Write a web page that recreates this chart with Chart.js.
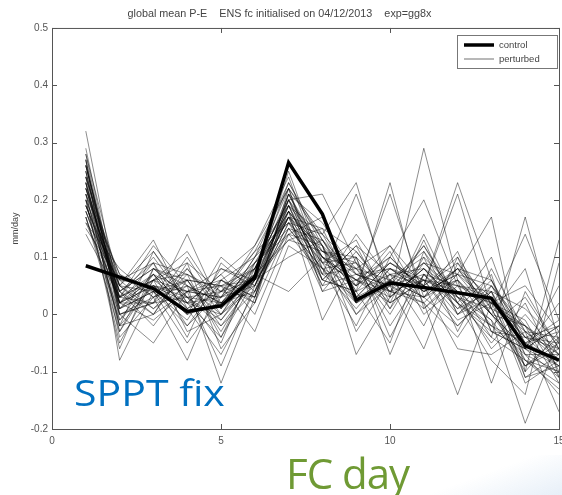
<!DOCTYPE html>
<html>
<head>
<meta charset="utf-8">
<script src="https://cdn.jsdelivr.net/npm/chart.js@4/dist/chart.umd.min.js"></script>
<style>
  html, body { margin: 0; padding: 0; background: #fff; overflow: hidden; }
  #wrap { position: relative; width: 562px; height: 495px; overflow: hidden; }
  #box { position: absolute; left: 0; top: 0; width: 600px; height: 495px; }
  .note { position: absolute; font-family: "Open Sans", sans-serif; white-space: nowrap; line-height: 1; }
  #sppt { left: 74px; top: 375px; font-size: 36px; color: #0070c0; transform: scaleX(1.14); transform-origin: left top; }
  #fcday { left: 286px; top: 452px; font-size: 42px; color: #6f9a34; letter-spacing: -1px; }
  #glow { position: absolute; left: 430px; top: 455px; width: 140px; height: 45px;
          background: linear-gradient(160deg, rgba(255,255,255,0) 40%, rgba(220,232,245,0.8) 100%); }
</style>
</head>
<body>
<div id="wrap">
  <div id="box"><canvas id="chart1"></canvas></div>
  <div id="glow"></div>
  <div class="note" id="sppt">SPPT fix</div>
  <div class="note" id="fcday">FC day</div>
</div>
<script>
const days = [1, 2, 3, 4, 5, 6, 7, 8, 9, 10, 11, 12, 13, 14, 15]
const xTicks = [0, 5, 10, 15]
const yTicks = [-0.2, -0.1, 0, 0.1, 0.2, 0.3, 0.4, 0.5]

const control = [0.085, 0.065, 0.045, 0.005, 0.015, 0.065, 0.265, 0.175, 0.025, 0.055, 0.047, 0.038, 0.028, -0.055, -0.08]

// ensemble members
const m01 = [0.32, 0.02, 0.05, 0.03, -0.02, 0.06, 0.20, 0.12, 0.06, 0.03, 0.08, 0.02, -0.03, -0.06, -0.09]
const m02 = [0.27, -0.08, 0.04, 0.02, 0.00, 0.05, 0.17, 0.09, 0.10, 0.04, 0.06, 0.05, 0.02, -0.04, -0.05]
const m03 = [0.28, 0.05, 0.13, 0.01, 0.04, 0.08, 0.22, 0.14, 0.04, 0.07, 0.03, -0.02, 0.04, -0.08, -0.12]
const m04 = [0.25, 0.00, 0.02, 0.14, 0.01, 0.10, 0.19, 0.06, 0.12, 0.01, 0.09, 0.07, 0.00, -0.02, -0.07]
const m05 = [0.22, 0.03, 0.06, -0.04, 0.09, 0.04, 0.16, 0.10, 0.02, 0.08, 0.05, 0.10, 0.01, -0.10, -0.03]
const m06 = [0.20, -0.06, 0.08, 0.05, -0.12, 0.03, 0.21, 0.16, 0.07, 0.05, 0.12, 0.03, -0.05, 0.02, -0.10]
const m07 = [0.24, 0.06, 0.01, 0.07, 0.03, 0.12, 0.24, 0.08, -0.02, 0.10, 0.04, 0.08, 0.06, -0.05, -0.01]
const m08 = [0.18, 0.02, 0.09, 0.00, 0.05, 0.06, 0.13, 0.11, 0.09, -0.02, 0.07, 0.00, 0.03, -0.07, -0.14]
const m09 = [0.26, 0.04, -0.02, 0.06, -0.03, 0.07, 0.18, 0.05, 0.14, 0.06, 0.01, 0.06, -0.02, 0.03, -0.06]
const m10 = [0.21, -0.02, 0.11, 0.03, 0.02, 0.09, 0.15, 0.13, 0.05, 0.12, 0.02, -0.04, 0.05, -0.03, -0.08]
const m11 = [0.16, 0.08, 0.03, -0.08, 0.06, 0.02, 0.20, 0.07, 0.08, 0.00, 0.10, 0.04, -0.01, -0.09, -0.04]
const m12 = [0.23, 0.01, 0.07, 0.04, -0.09, 0.05, 0.17, 0.15, 0.03, 0.09, 0.05, 0.09, 0.02, -0.01, -0.11]
const m13 = [0.19, 0.05, 0.00, 0.09, 0.04, 0.11, 0.22, 0.04, 0.11, 0.03, 0.29, 0.06, 0.00, -0.06, -0.02]
const m14 = [0.27, -0.01, 0.05, 0.02, 0.07, 0.00, 0.14, 0.12, 0.00, 0.07, 0.08, 0.01, 0.07, -0.11, -0.07]
const m15 = [0.14, 0.03, 0.12, 0.05, 0.00, 0.08, 0.18, 0.10, 0.06, 0.04, 0.03, 0.11, -0.03, -0.04, -0.09]
const m16 = [0.22, 0.07, 0.04, -0.01, 0.08, 0.06, 0.25, 0.09, 0.13, 0.02, 0.06, -0.02, 0.04, 0.01, -0.05]
const m17 = [0.17, -0.03, 0.06, 0.11, 0.02, 0.04, 0.16, 0.06, 0.04, 0.11, 0.00, 0.05, -0.04, -0.08, -0.13]
const m18 = [0.25, 0.02, 0.02, 0.03, -0.05, 0.09, 0.19, 0.14, 0.08, 0.06, 0.11, 0.03, 0.01, -0.02, -0.06]
const m19 = [0.20, 0.04, 0.08, 0.06, 0.05, -0.03, 0.12, 0.08, 0.01, 0.08, 0.04, 0.07, 0.05, -0.05, -0.03]
const m20 = [0.28, 0.00, -0.05, 0.04, 0.03, 0.07, 0.21, 0.11, 0.10, -0.04, 0.07, 0.02, -0.02, -0.07, -0.10]
const m21 = [0.15, 0.06, 0.05, 0.00, 0.10, 0.05, 0.17, 0.05, 0.07, 0.05, 0.02, 0.08, 0.03, -0.12, -0.08]
const m22 = [0.23, -0.04, 0.03, 0.08, 0.01, 0.10, 0.23, 0.13, 0.03, 0.09, 0.06, -0.01, 0.02, -0.03, -0.04]
const m23 = [0.19, 0.03, 0.10, 0.02, -0.04, 0.06, 0.14, 0.07, 0.21, 0.05, 0.09, 0.04, -0.06, 0.00, -0.07]
const m24 = [0.26, 0.01, 0.04, -0.02, 0.06, 0.03, 0.18, 0.10, 0.05, 0.21, 0.03, 0.06, 0.00, -0.06, -0.11]
const m25 = [0.21, 0.05, 0.01, 0.05, 0.02, 0.08, 0.20, 0.21, 0.09, 0.01, 0.13, 0.00, 0.06, -0.04, -0.02]
const m26 = [0.17, -0.01, 0.07, 0.01, -0.07, 0.04, 0.15, 0.08, 0.02, 0.07, 0.05, 0.21, 0.01, -0.09, -0.06]
const m27 = [0.24, 0.03, 0.06, 0.07, 0.04, 0.06, 0.19, 0.12, -0.07, 0.03, 0.08, 0.02, -0.04, 0.17, -0.05]
const m28 = [0.18, 0.02, -0.01, 0.04, 0.03, 0.11, 0.16, 0.09, 0.06, 0.10, 0.20, 0.05, 0.03, -0.05, -0.09]
const m29 = [0.22, 0.04, 0.08, 0.03, -0.01, 0.07, 0.13, 0.15, 0.11, 0.04, 0.02, -0.14, 0.02, -0.02, -0.08]
const m30 = [0.27, 0.00, 0.03, 0.06, 0.05, 0.02, 0.22, 0.06, 0.04, 0.23, 0.01, 0.07, 0.17, -0.10, 0.13]
const m31 = [0.20, 0.06, 0.09, -0.03, 0.00, 0.09, 0.17, 0.11, 0.08, 0.02, 0.06, 0.03, -0.01, -0.19, -0.04]
const m32 = [0.25, -0.02, 0.05, 0.04, 0.08, 0.05, 0.20, 0.07, 0.03, 0.06, 0.10, -0.03, 0.08, -0.03, -0.17]
const m33 = [0.16, 0.03, 0.02, 0.10, 0.01, 0.06, 0.10, 0.13, 0.07, 0.08, 0.04, 0.06, -0.12, 0.04, -0.06]
const m34 = [0.23, 0.01, 0.06, 0.02, 0.03, 0.08, 0.18, -0.01, 0.10, -0.07, 0.07, 0.01, 0.04, -0.06, 0.02]
const m35 = [0.19, 0.05, 0.04, 0.06, -0.02, 0.04, 0.21, 0.09, 0.00, 0.05, -0.06, 0.09, 0.00, -0.08, -0.10]
const m36 = [0.26, 0.02, 0.07, 0.01, 0.06, 0.10, 0.16, 0.14, 0.23, 0.03, 0.08, 0.04, 0.02, 0.05, -0.03]
const m37 = [0.21, 0.07, 0.03, 0.05, 0.02, 0.07, 0.04, 0.10, 0.05, 0.09, 0.05, 0.23, 0.06, -0.07, -0.07]
const m38 = [0.24, -0.03, 0.08, 0.03, 0.04, 0.03, 0.19, 0.08, 0.09, 0.04, 0.12, 0.02, -0.08, -0.14, 0.09]
const m39 = [0.18, 0.04, 0.00, 0.08, 0.00, 0.06, 0.17, 0.12, 0.02, 0.06, 0.03, 0.08, 0.01, 0.14, -0.01]
const m40 = [0.22, 0.02, 0.06, 0.04, 0.05, 0.08, 0.20, 0.10, 0.06, 0.08, 0.06, 0.04, 0.03, -0.04, -0.06]
const m41 = [0.29, 0.01, 0.04, -0.05, 0.03, 0.05, 0.18, 0.11, 0.07, 0.04, 0.09, 0.03, -0.02, -0.05, -0.08]
const m42 = [0.20, -0.05, 0.06, 0.09, -0.06, 0.02, 0.15, 0.08, 0.05, 0.10, 0.04, 0.07, 0.02, -0.09, -0.05]
const m43 = [0.24, 0.05, 0.11, 0.02, 0.07, 0.12, 0.22, 0.13, 0.04, -0.05, 0.11, 0.00, 0.05, -0.02, -0.12]
const m44 = [0.17, 0.00, 0.02, 0.06, -0.01, 0.06, 0.19, 0.06, 0.12, 0.07, -0.02, 0.10, -0.03, -0.06, 0.05]
const m45 = [0.26, 0.03, 0.07, -0.02, 0.04, 0.09, 0.14, 0.17, 0.02, 0.05, 0.07, 0.05, 0.04, -0.11, -0.09]
const m46 = [0.21, -0.02, 0.00, 0.04, 0.06, 0.03, 0.21, 0.10, 0.08, 0.12, 0.05, -0.06, -0.07, -0.03, -0.07]
const m47 = [0.19, 0.04, 0.09, 0.07, -0.04, 0.08, 0.17, 0.04, 0.06, 0.02, 0.14, 0.02, 0.10, -0.06, -0.02]
const m48 = [0.23, 0.02, 0.05, 0.00, 0.02, 0.07, 0.23, 0.12, -0.03, 0.06, 0.03, 0.08, 0.00, 0.08, -0.11]

const members = [m01, m02, m03, m04, m05, m06, m07, m08, m09, m10,
  m11, m12, m13, m14, m15, m16, m17, m18, m19, m20,
  m21, m22, m23, m24, m25, m26, m27, m28, m29, m30,
  m31, m32, m33, m34, m35, m36, m37, m38, m39, m40,
  m41, m42, m43, m44, m45, m46, m47, m48]

const toPoints = vals => vals.map((v, i) => ({ x: days[i], y: v }))

const datasets = [{
  label: 'control',
  data: toPoints(control),
  borderColor: '#000',
  borderWidth: 3.5,
  pointRadius: 0
}]
members.forEach((m, i) => {
  datasets.push({
    label: 'perturbed ' + (i + 1),
    data: toPoints(m),
    borderColor: 'rgba(0,0,0,0.5)',
    borderWidth: 0.9,
    pointRadius: 0
  })
})

// matlab-ish box, inward ticks and legend
const boxPlugin = {
  id: 'box',
  afterDatasetsDraw(chart) {
    const { ctx, chartArea: a, scales } = chart
    ctx.save()
    ctx.strokeStyle = '#555'
    ctx.lineWidth = 1
    ctx.strokeRect(a.left + 0.5, a.top + 0.5, a.right - a.left, a.bottom - a.top)
    ctx.beginPath()
    xTicks.forEach(t => {
      const x = Math.round(scales.x.getPixelForValue(t)) + 0.5
      ctx.moveTo(x, a.bottom); ctx.lineTo(x, a.bottom - 5)
      ctx.moveTo(x, a.top); ctx.lineTo(x, a.top + 5)
    })
    yTicks.forEach(t => {
      const y = Math.round(scales.y.getPixelForValue(t)) + 0.5
      ctx.moveTo(a.left, y); ctx.lineTo(a.left + 5, y)
      ctx.moveTo(a.right, y); ctx.lineTo(a.right - 5, y)
    })
    ctx.stroke()

    // legend
    const lx = 457, ly = 35, lw = 100, lh = 33
    ctx.fillStyle = '#fff'
    ctx.fillRect(lx, ly, lw, lh)
    ctx.strokeStyle = '#777'
    ctx.strokeRect(lx + 0.5, ly + 0.5, lw, lh)
    ctx.strokeStyle = '#000'
    ctx.lineWidth = 3.5
    ctx.beginPath(); ctx.moveTo(lx + 7, ly + 10); ctx.lineTo(lx + 37, ly + 10); ctx.stroke()
    ctx.lineWidth = 0.8
    ctx.strokeStyle = 'rgba(0,0,0,0.7)'
    ctx.beginPath(); ctx.moveTo(lx + 7, ly + 24); ctx.lineTo(lx + 37, ly + 24); ctx.stroke()
    ctx.fillStyle = '#444'
    ctx.font = '9.5px "Liberation Sans", Arial, sans-serif'
    ctx.textBaseline = 'middle'
    ctx.fillText('control', lx + 42, ly + 10)
    ctx.fillText('perturbed', lx + 42, ly + 24)
    ctx.restore()
  }
}

const chart1El = document.getElementById('chart1')

new Chart(chart1El, {
  type: 'line',
  data: { datasets: datasets },
  options: {
    responsive: true,
    maintainAspectRatio: false,
    animation: false,
    layout: { padding: { left: 0, right: 41, top: 0, bottom: 0 } },
    elements: { line: { tension: 0 } },
    plugins: {
      legend: { display: false },
      tooltip: { enabled: false },
      title: {
        display: true,
        text: 'global mean P-E    ENS fc initialised on 04/12/2013    exp=gg8x',
        color: '#444',
        font: { family: '"Liberation Sans", Arial, sans-serif', size: 10.8, weight: 'normal' },
        padding: { top: 8, bottom: 7 }
      }
    },
    scales: {
      x: {
        type: 'linear',
        min: 0,
        max: 15,
        afterBuildTicks: s => { s.ticks = xTicks.map(v => ({ value: v })) },
        afterFit: s => { s.height = 66 },
        grid: { display: false, drawTicks: false },
        border: { display: false },
        ticks: {
          color: '#555',
          padding: 6,
          maxRotation: 0,
          font: { family: '"Liberation Sans", Arial, sans-serif', size: 10 }
        }
      },
      y: {
        min: -0.2,
        max: 0.5,
        afterBuildTicks: s => { s.ticks = yTicks.map(v => ({ value: v })) },
        afterFit: s => { s.width = 52 },
        grid: { display: false, drawTicks: false },
        border: { display: false },
        ticks: {
          color: '#555',
          padding: 4,
          font: { family: '"Liberation Sans", Arial, sans-serif', size: 10 },
          callback: v => String(Math.round(v * 10) / 10)
        },
        title: {
          display: true,
          text: 'mm/day',
          color: '#444',
          padding: { top: 10, bottom: 0 },
          font: { family: '"Liberation Sans", Arial, sans-serif', size: 9 }
        }
      }
    }
  },
  plugins: [boxPlugin]
})
</script>
</body>
</html>
